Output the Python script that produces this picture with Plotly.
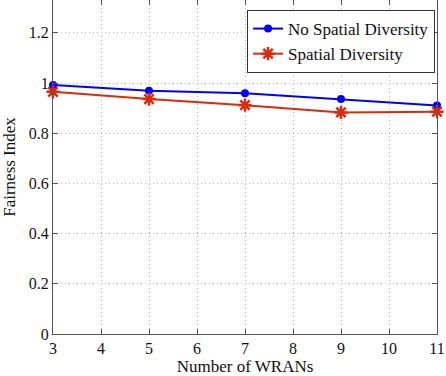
import plotly.graph_objects as go

x_wrans = [3, 5, 7, 9, 11]
no_spatial = [0.992, 0.969, 0.959, 0.936, 0.911]
spatial = [0.965, 0.936, 0.912, 0.883, 0.886]
x_ticks = [3, 4, 5, 6, 7, 8, 9, 10, 11]
y_ticks = [0, 0.2, 0.4, 0.6, 0.8, 1, 1.2]

BLUE = "#0000ff"
RED = "#dd2a0c"
FONT = "Liberation Serif"

fig = go.Figure()
fig.add_trace(go.Scatter(
    x=x_wrans, y=no_spatial, mode="lines+markers", name="No Spatial Diversity",
    line=dict(color=BLUE, width=2),
    marker=dict(symbol="circle", size=8, color=BLUE),
    cliponaxis=False,
))
fig.add_trace(go.Scatter(
    x=x_wrans, y=spatial, mode="lines+markers", name="Spatial Diversity",
    line=dict(color=RED, width=2),
    marker=dict(symbol="asterisk-open", size=11, color=RED, line=dict(color=RED, width=2.5)),
    cliponaxis=False,
))

axis_common = dict(
    showgrid=True, gridcolor="#b8b8b8", griddash="1px,3px", gridwidth=1,
    showline=True, linecolor="#555555", linewidth=1, mirror="ticks",
    ticks="inside", ticklen=5, tickcolor="#555555",
    zeroline=False, automargin=False,
    tickfont=dict(family=FONT, size=16, color="#111111"),
)

fig.update_xaxes(
    range=[3, 11], tickvals=x_ticks,
    title=dict(text="Number of WRANs", font=dict(family=FONT, size=17, color="#111111"), standoff=6),
    **axis_common,
)
fig.update_yaxes(
    range=[0, 1.331], tickvals=y_ticks,
    title=dict(text="Fairness Index", font=dict(family=FONT, size=17, color="#111111"), standoff=8),
    **axis_common,
)

fig.update_layout(
    width=446, height=376,
    margin=dict(l=53, r=9, t=0, b=42),
    paper_bgcolor="white", plot_bgcolor="white",
    font=dict(family=FONT),
    showlegend=True,
    legend=dict(
        x=0.995, y=0.97, xanchor="right", yanchor="top",
        bordercolor="#333333", borderwidth=1, bgcolor="white",
        font=dict(family=FONT, size=17, color="#111111"),
        itemwidth=30, tracegroupgap=0,
    ),
)

fig.write_html(
    "out.html",
    config={"displayModeBar": False},
    post_script="document.body.style.margin='0';document.body.style.overflow='hidden';",
)
